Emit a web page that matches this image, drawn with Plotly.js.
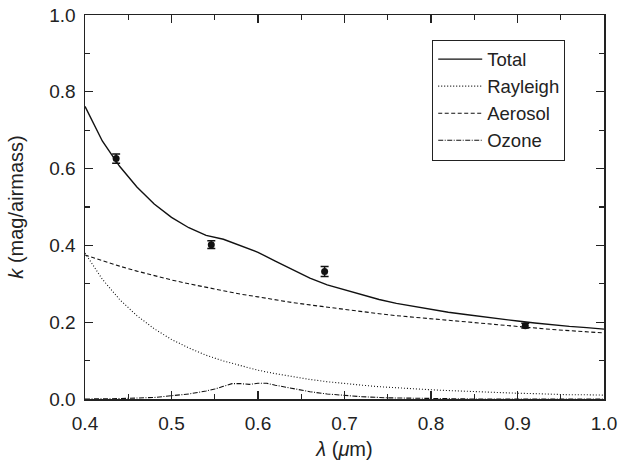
<!DOCTYPE html>
<html>
<head>
<meta charset="utf-8">
<script src="https://cdn.plot.ly/plotly-3.0.1.min.js"></script>
<style>html,body{margin:0;padding:0;background:#fff;}#chart{width:624px;height:461px;}</style>
</head>
<body>
<div id="chart"></div>
<script>
// wavelength grid (micron)
const wavelength = [0.40,0.42,0.44,0.46,0.48,0.50,0.52,0.54,0.56,0.58,0.60,0.62,0.64,0.66,0.68,0.70,0.72,0.74,0.76,0.78,0.80,0.82,0.84,0.86,0.88,0.90,0.92,0.94,0.96,0.98,1.00];
const totalK = [0.762,0.672,0.606,0.552,0.508,0.473,0.446,0.426,0.416,0.398,0.382,0.359,0.336,0.315,0.297,0.284,0.271,0.259,0.249,0.241,0.233,0.226,0.220,0.214,0.208,0.203,0.198,0.193,0.189,0.186,0.182];
const rayleighK = [0.380,0.312,0.259,0.217,0.183,0.155,0.133,0.114,0.099,0.086,0.075,0.066,0.058,0.051,0.045,0.040,0.036,0.032,0.029,0.026,0.024,0.022,0.020,0.018,0.016,0.015,0.014,0.012,0.011,0.011,0.010];
const aerosolK = [0.375,0.360,0.346,0.333,0.321,0.310,0.300,0.291,0.282,0.273,0.266,0.258,0.251,0.245,0.239,0.233,0.228,0.222,0.217,0.213,0.208,0.204,0.200,0.196,0.192,0.188,0.185,0.181,0.178,0.175,0.172];
// ozone, finer wavelength grid
const ozoneWl = [0.40,0.44,0.48,0.50,0.52,0.54,0.55,0.56,0.57,0.58,0.59,0.60,0.61,0.62,0.64,0.66,0.68,0.70,0.72,0.75,0.80,0.85,0.90,0.95,1.00];
const ozoneK = [0.000,0.001,0.004,0.008,0.013,0.021,0.026,0.033,0.040,0.040,0.038,0.041,0.041,0.036,0.027,0.019,0.013,0.009,0.006,0.003,0.001,0.000,0.000,0.000,0.000];
// measured extinction
const obsWl = [0.436,0.546,0.677,0.909];
const obsK = [0.626,0.402,0.332,0.191];
const obsErr = [0.012,0.010,0.013,0.006];

const traces = [
  {x: wavelength, y: totalK, name: 'Total', mode: 'lines', line: {color: '#111', width: 1.4}},
  {x: wavelength, y: rayleighK, name: 'Rayleigh', mode: 'lines', line: {color: '#111', width: 1.1, dash: '1px,2px'}},
  {x: wavelength, y: aerosolK, name: 'Aerosol', mode: 'lines', line: {color: '#111', width: 1.1, dash: '4px,2.5px'}},
  {x: ozoneWl, y: ozoneK, name: 'Ozone', mode: 'lines', line: {color: '#111', width: 1.1, dash: '5px,1.5px,1px,1.5px'}},
  {x: obsWl, y: obsK, mode: 'markers', showlegend: false,
   marker: {color: '#111', size: 7},
   error_y: {type: 'data', array: obsErr, visible: true, color: '#111', thickness: 1.5, width: 4}}
];

const fam = 'Liberation Sans, Arial, sans-serif';
const axFont = {family: fam, size: 19, color: '#222'};
const layout = {
  width: 624, height: 461,
  margin: {l: 85, r: 20, t: 15, b: 62},
  paper_bgcolor: '#fff', plot_bgcolor: '#fff',
  font: {family: fam, color: '#222'},
  showlegend: true,
  legend: {x: 0.669, y: 0.936, xanchor: 'left', yanchor: 'top', bordercolor: '#222', borderwidth: 1,
           itemwidth: 44, bgcolor: '#fff', font: {family: fam, size: 18.5, color: '#222'}},
  xaxis: {range: [0.4, 1.0], dtick: 0.1, tick0: 0.4, tickformat: '.1f', ticks: 'inside', ticklen: 8, tickwidth: 1.2, tickcolor: '#222',
          showline: true, linecolor: '#222', linewidth: 1.5, mirror: 'ticks', showgrid: false, zeroline: false,
          tickfont: axFont, ticklabelstandoff: 7,
          minor: {dtick: 0.05, ticks: 'inside', ticklen: 5, tickwidth: 1.2, tickcolor: '#222', showgrid: false},
          title: {text: '<i>λ</i> (<i>μ</i>m)', font: {family: fam, size: 20, color: '#222'}, standoff: 8}},
  yaxis: {range: [0, 1.0], dtick: 0.2, tick0: 0, tickformat: '.1f', ticks: 'inside', ticklen: 8, tickwidth: 1.2, tickcolor: '#222',
          showline: true, linecolor: '#222', linewidth: 1.5, mirror: 'ticks', showgrid: false, zeroline: false,
          tickfont: axFont, ticklabelstandoff: 4,
          minor: {dtick: 0.1, ticks: 'inside', ticklen: 5, tickwidth: 1.2, tickcolor: '#222', showgrid: false},
          title: {text: '<i>k</i> (mag/airmass)', font: {family: fam, size: 20, color: '#222'}, standoff: 20}}
};
Plotly.newPlot('chart', traces, layout, {displayModeBar: false, staticPlot: true});
</script>
</body>
</html>
